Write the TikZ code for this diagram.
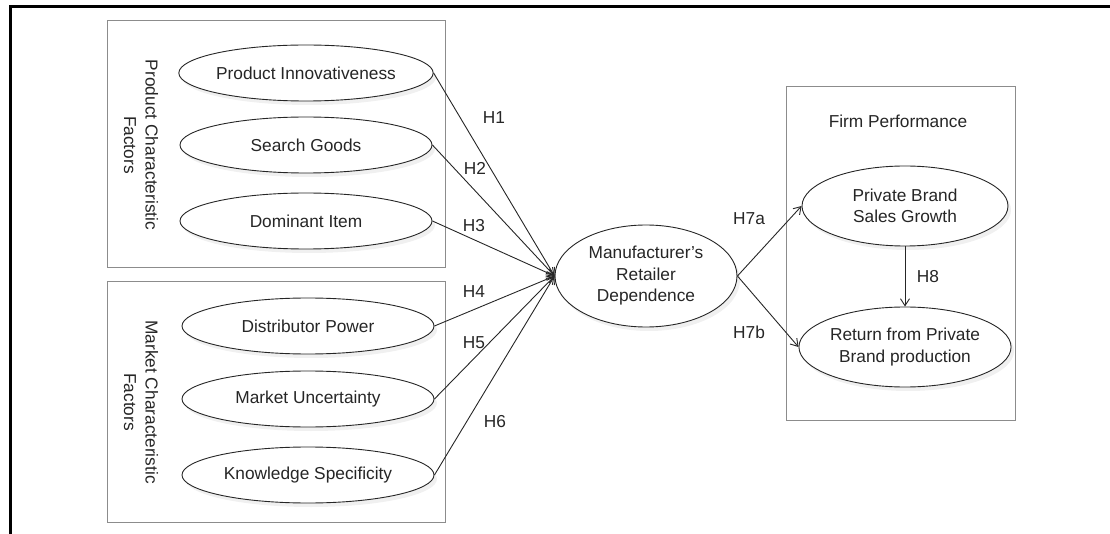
\documentclass[tikz,border=0pt]{standalone}
\usepackage{fontspec}
\setmainfont{Liberation Sans}
\usetikzlibrary{shapes.geometric,arrows.meta,shadows}
\begin{document}
\begin{tikzpicture}[x=1pt,y=-1pt,
  ell/.style={ellipse, draw=black!85, line width=0.9pt, fill=white,
    minimum width=252pt, minimum height=56pt, inner sep=0pt,
    font=\fontsize{17.3}{21.5}\selectfont, align=center, text=black!85,
    drop shadow={opacity=0.12, shadow xshift=3pt, shadow yshift=-4pt}},
  grp/.style={draw=black!45, line width=1pt},
  lbl/.style={font=\fontsize{17.3}{21.5}\selectfont, inner sep=0pt, text=black!85, align=center},
  arr/.style={-{Straight Barb[length=7pt,width=9pt]}, line width=0.9pt, draw=black!85}]
\useasboundingbox (0,0) rectangle (1110,534);
% outer frame (partial)
\draw[line width=3pt] (10,534) -- (10,7) -- (1110,7);
% group boxes
\draw[grp] (107,21) rectangle (445,268);
\draw[grp] (107,282) rectangle (445,522);
\draw[grp] (786,87) rectangle (1015,420);
% group labels
\node[lbl, rotate=-90] (pcf) at (141,145) {Product Characteristic\\Factors};
\node[lbl, rotate=-90] (mcf) at (141,402) {Market Characteristic\\Factors};
\node[lbl] (fp) at (898,121) {Firm Performance};
% ellipses
\node[ell] (pi) at (306,73) {Product Innovativeness};
\node[ell] (sg) at (306,145) {Search Goods};
\node[ell] (di) at (306,221) {Dominant Item};
\node[ell] (dp) at (308,326) {Distributor Power};
\node[ell] (mu) at (308,399) {Market Uncertainty};
\node[ell] (ks) at (308,475) {Knowledge Specificity};
\node[ell, minimum width=182pt, minimum height=102pt] (mrd) at (646,276) {Manufacturer's\\Retailer\\Dependence};
\node[ell, minimum width=206pt, minimum height=80pt] (pb) at (905,206) {Private Brand\\Sales Growth};
\node[ell, minimum width=206pt, minimum height=80pt] (rp) at (905,347) {Return from Private\\Brand production};
% connectors
\foreach \s in {pi,sg,di,dp,mu,ks}{\draw[arr] (\s.east) -- (mrd.west);}
\draw[arr] (mrd.east) -- (pb.west);
\draw[arr] (mrd.east) -- (rp.west);
\draw[arr] (pb.south) -- (rp.north);
% connector labels
\node[lbl] (h1) at (494,118) {H1};
\node[lbl] (h2) at (475,168) {H2};
\node[lbl] (h3) at (474,226) {H3};
\node[lbl] (h4) at (474,292) {H4};
\node[lbl] (h5) at (474,343) {H5};
\node[lbl] (h6) at (495,422) {H6};
\node[lbl] (h7a) at (749,219) {H7a};
\node[lbl] (h7b) at (749,332) {H7b};
\node[lbl] (h8) at (928,277) {H8};
\end{tikzpicture}
\end{document}
